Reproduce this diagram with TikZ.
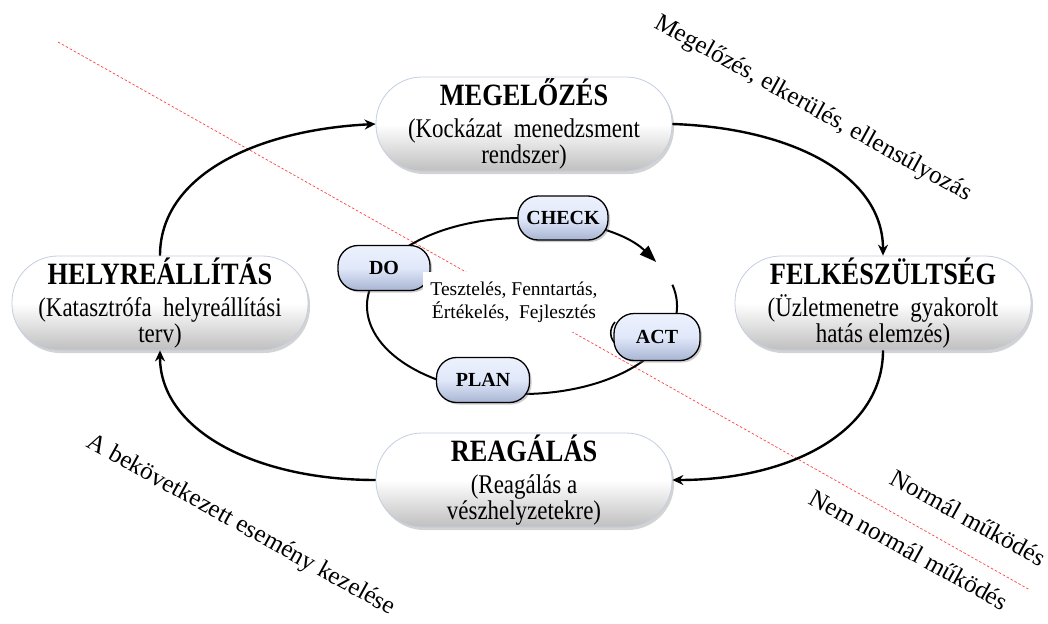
\documentclass[tikz,border=0pt]{standalone}
\usepackage{fontspec}
\setmainfont{Liberation Serif}
\newfontfamily\pillfont[FakeStretch=0.85]{Liberation Serif}
\usetikzlibrary{arrows.meta,shadows}
\definecolor{pillblue}{RGB}{224,232,250}
\definecolor{pilldark}{RGB}{168,180,210}
\definecolor{bigedge}{RGB}{196,206,224}
\newcommand{\pilltitle}[1]{{\fontsize{31}{34}\selectfont\bfseries #1}}
\begin{document}
\begin{tikzpicture}[x=1pt,y=-1pt,
  bigpill/.style={rounded corners=46pt, minimum width=296pt, minimum height=94pt,
    draw=bigedge, line width=0.8pt, top color=white, bottom color=gray!50, middle color=white,
    drop shadow={shadow xshift=2pt, shadow yshift=-3pt, opacity=0.35},
    align=center, font=\pillfont\fontsize{27}{26}\selectfont, inner sep=0pt},
  smallpill/.style={rounded corners=20pt, minimum width=90pt, minimum height=44pt,
    draw=black, line width=1.3pt, top color=pillblue!60!white, bottom color=pilldark, middle color=pillblue,
    drop shadow={shadow xshift=2pt, shadow yshift=-2pt, opacity=0.4},
    font=\fontsize{20}{24}\selectfont\bfseries, inner sep=0pt},
  cyc/.style={line width=2.4pt, -{Stealth[length=11pt,width=10pt]}},
  slanted/.style={rotate=-29, anchor=base, font=\fontsize{25}{30}\selectfont, inner sep=0pt},
  redline/.style={red!75, line width=0.7pt, dash pattern=on 2.5pt off 2pt}
]
\useasboundingbox (0,0) rectangle (1048,623);

% dividing line
\coordinate (r1) at (58,42);
\coordinate (r2) at (1030,590);
\draw[redline] (r1) -- (r2);

% big pills
\node[bigpill] (megel) at (524,124) {\pilltitle{MEGELŐZÉS}\\[6pt](Kockázat\ \ menedzsment\\ rendszer)};
\node[bigpill] (helyre) at (160,303) {\pilltitle{HELYREÁLLÍTÁS}\\[6pt](Katasztrófa\ \ helyreállítási\\ terv)};
\node[bigpill] (felk) at (883,303) {\pilltitle{FELKÉSZÜLTSÉG}\\[6pt](Üzletmenetre\ \ gyakorolt\\ hatás elemzés)};
\node[bigpill] (reag) at (524,480) {\pilltitle{REAGÁLÁS}\\[6pt](Reagálás a\\ vészhelyzetekre)};

% cycle arrows
\draw[cyc] (helyre.north) .. controls +(0,-80) and +(-120,6) .. (megel.west);
\draw[cyc] (megel.east) .. controls +(120,4) and +(0,-80) .. (felk.north);
\draw[cyc] (felk.south) .. controls +(0,80) and +(120,0) .. (reag.east);
\draw[cyc] (reag.west) .. controls +(-120,0) and +(0,80) .. (helyre.south);

% PDCA ellipse
\coordinate (pdca) at (522,306);
\draw[line width=2pt, -{Triangle[length=17pt,width=12pt]}]
  ([shift={(-14:155 and 88)}]pdca) arc[start angle=-14, end angle=330, x radius=155, y radius=88];
\coordinate (a1) at (615,322);
\coordinate (a2) at (617,345);
\draw[line width=1.6pt] (a1) .. controls (609,329) and (609,339) .. (a2);

% small pills
\node[smallpill] (check) at (563,218) {CHECK};
\node[smallpill, minimum width=92pt, minimum height=45pt] (do) at (384,268) {DO};
\node[smallpill, minimum width=86pt, minimum height=47pt] (act) at (657,337) {ACT};
\node[smallpill, minimum width=93pt, minimum height=45pt] (plan) at (483,380) {PLAN};

% centre text
\node[fill=white, minimum width=183pt, minimum height=60pt, inner sep=0pt, align=center,
  font=\fontsize{19.5}{23}\selectfont] (mid) at (514,302) {Tesztelés, Fenntartás,\\ Értékelés,\ \ Fejlesztés};

% slanted labels
\node[slanted] (t1) at (810,114) {Megelőzés, elkerülés, ellensúlyozás};
\node[slanted] (t2) at (238,531) {A bekövetkezett esemény kezelése};
\node[slanted] (t3) at (964,525) {Normál működés};
\node[slanted] (t4) at (905,557) {Nem normál működés};
\end{tikzpicture}
\end{document}
